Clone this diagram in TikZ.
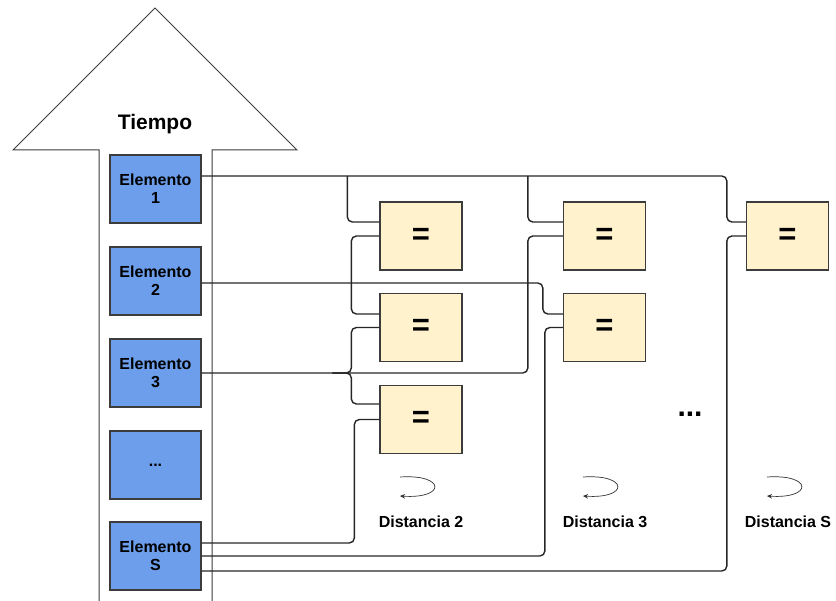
\documentclass[tikz,border=0pt]{standalone}
\usepackage{fontspec}
\setmainfont{Liberation Sans}
\usetikzlibrary{calc,arrows.meta}
\definecolor{bluefill}{RGB}{108,158,235}
\definecolor{yelfill}{RGB}{255,242,204}
\definecolor{edgec}{RGB}{60,60,60}
\begin{document}
\begin{tikzpicture}[x=1pt,y=-1pt,
  elem/.style={draw=edgec, line width=1.3pt, fill=bluefill, minimum width=91pt, minimum height=68pt, inner sep=0pt, align=center, font=\fontsize{16}{18}\selectfont\bfseries},
  cmp/.style={draw=edgec, line width=1.3pt, fill=yelfill, minimum width=82pt, minimum height=68pt, inner sep=0pt, font=\fontsize{31}{31}\selectfont\bfseries},
  conn/.style={draw=black!85, line width=1.4pt, rounded corners=5pt},
  lbl/.style={font=\fontsize{16}{18}\selectfont\bfseries},
  loop/.style={draw=black!80, line width=0.7pt, -{Stealth[length=5pt,width=4.5pt]}}]
\useasboundingbox (0,0) rectangle (836,601);
% big arrow
\draw[edgec, line width=1pt, fill=white] (99,606) -- (99,150) -- (13,150) -- (155,8) -- (297,150) -- (212,150) -- (212,606);
\node[font=\fontsize{21}{22}\selectfont\bfseries] (tiempo) at (155,124) {Tiempo};
% elements
\node[elem] (e1) at (155.5,189) {Elemento\\1};
\node[elem] (e2) at (155.5,281) {Elemento\\2};
\node[elem] (e3) at (155.5,373) {Elemento\\3};
\node[elem] (ed) at (155.5,465) {...};
\node[elem] (eS) at (155.5,556) {Elemento\\S};
% comparators
\node[cmp] (a1) at (421,236) {=};
\node[cmp] (a2) at (421,327.5) {=};
\node[cmp] (a3) at (421,419.5) {=};
\node[cmp] (b1) at (604.5,236) {=};
\node[cmp] (b2) at (604.5,327.5) {=};
\node[cmp] (c1) at (787.5,236) {=};
% upper inputs
\coordinate (a1u) at ([yshift=14pt]a1.west);
\coordinate (a2u) at ([yshift=13.5pt]a2.west);
\coordinate (a3u) at ([yshift=15.5pt]a3.west);
\coordinate (b1u) at ([yshift=14pt]b1.west);
\coordinate (b2u) at ([yshift=13.5pt]b2.west);
\coordinate (c1u) at ([yshift=14pt]c1.west);
% Elemento 1
\coordinate (e1o) at ([yshift=13pt]e1.east);
\draw[conn] (e1o) -| ([xshift=-19pt]c1u) -- (c1u);
\draw[conn] ([xshift=-32pt]a1u |- e1o) |- (a1u);
\draw[conn] ([xshift=-35pt]b1u |- e1o) |- (b1u);
% Elemento 2
\coordinate (e2o) at ([yshift=-2pt]e2.east);
\draw[conn] (e2o) -| ([xshift=-20pt]b2u) -- (b2u);
% a1 lower -> a2 upper
\draw[conn] (a1.west) -| ([xshift=-28pt]a2u) -- (a2u);
% Elemento 3
\draw[conn] (e3.east) -| ([xshift=-35pt]b1.west) -- (b1.west);
\coordinate (j3) at ([xshift=-28pt]a2.west |- e3.east);
\draw[conn] ([xshift=-19pt]j3) -- (j3) |- (a2.west);
\draw[conn] ([xshift=-19pt]j3) -- (j3) |- (a3u);
% Elemento S
\coordinate (s1) at ([yshift=13pt]eS.east);
\coordinate (s2) at (eS.east);
\coordinate (s3) at ([yshift=-15pt]eS.east);
\draw[conn] (s1) -| ([xshift=-25pt]a3.west) -- (a3.west);
\draw[conn] (s2) -| ([xshift=-18pt]b2.west) -- (b2.west);
\draw[conn] (s3) -| ([xshift=-19pt]c1.west) -- (c1.west);
% dots
\node[font=\fontsize{30}{30}\selectfont\bfseries] (dots) at (690,414) {...};
% loops and labels
\draw[loop] (400,477) .. controls (446,474) and (446,499) .. (400,496);
\draw[loop] (583,477) .. controls (629,474) and (629,499) .. (583,496);
\draw[loop] (767,477) .. controls (813,474) and (813,499) .. (767,496);
\node[lbl] (d2) at (421,522) {Distancia 2};
\node[lbl] (d3) at (605,522) {Distancia 3};
\node[lbl] (dS) at (788,522) {Distancia S};
\end{tikzpicture}
\end{document}
